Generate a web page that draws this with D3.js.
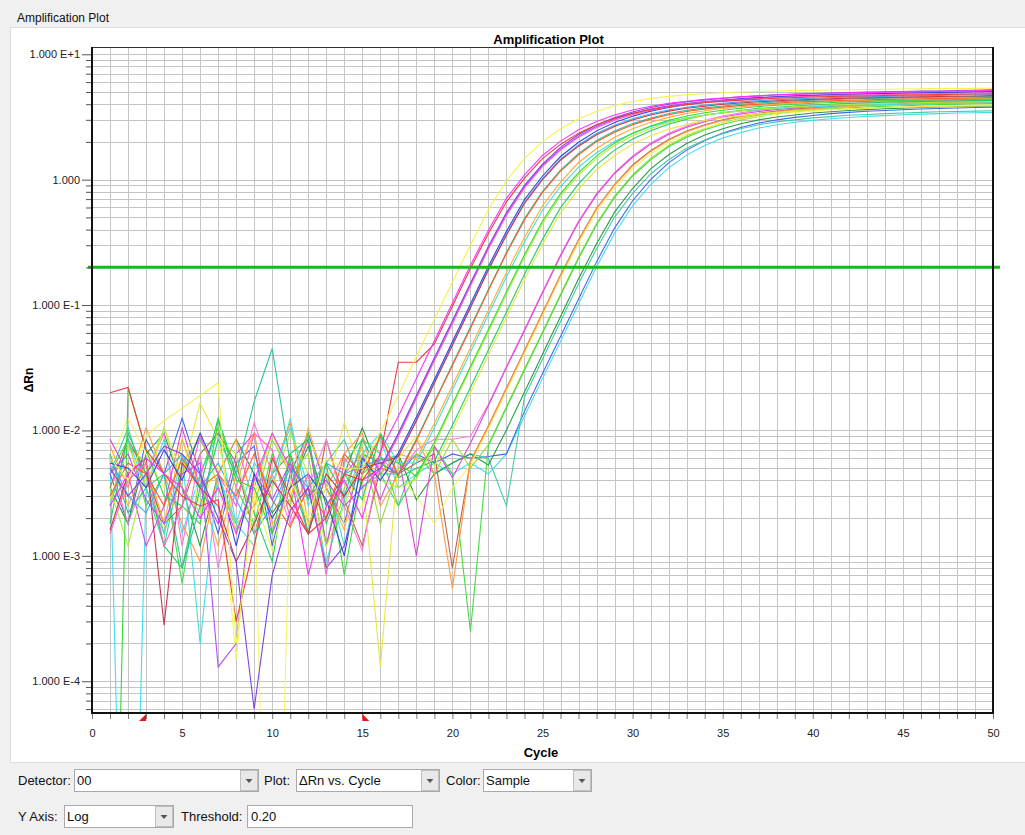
<!DOCTYPE html>
<html>
<head>
<meta charset="utf-8">
<script src="https://cdnjs.cloudflare.com/ajax/libs/d3/7.8.5/d3.min.js"></script>
<style>
  body { margin: 0; background: #f0f0f0; }
  svg { display: block; font-family: "Liberation Sans", Arial, sans-serif; }
</style>
</head>
<body>
<svg id="chart" width="1025" height="835"></svg>

<script>
// cycles 1..50
var cycles = d3.range(1, 51);

// delta Rn per well (1e-8 = dropped below the axis)
var yellowA = [.006,.004,.009,.012,.015,.019,.024,.0002,.003,.0011,.004,.002,.006,.005,
  .005,.0097,.019,.039,.077,.153,.30,.58,.98,1.48,2.0,2.55,3.05,3.5,3.9,4.2,4.45,4.62,4.75,4.85,4.93,5.0,5.05,5.1,5.13,5.16,5.19,5.22,5.24,5.26,5.28,5.3,5.32,5.33,5.35,5.36];
var magentaA = [.0025,.0045,.006,.0045,.0035,.002,.0035,.0015,.004,.0095,.005,.0007,.0025,.004,.002,
  .0068,.013,.026,.052,.104,.208,.395,.71,1.09,1.56,2.03,2.5,2.91,3.28,3.59,3.85,4.06,4.21,4.37,4.47,4.58,4.66,4.73,4.78,4.84,4.89,4.92,4.95,4.98,5.01,5.04,5.06,5.1,5.12,5.15];
var redA = [.02,.022,.007,.0045,.003,.0025,.0028,.0003,.0012,.006,.003,.0015,.002,.0045,.004,
  .0064,.035,.035,.049,.098,.196,.372,.666,1.03,1.47,1.91,2.35,2.74,3.09,3.38,3.63,3.82,3.97,4.12,4.21,4.31,4.39,4.46,4.51,4.56,4.61,4.64,4.66,4.69,4.72,4.75,4.77,4.8,4.82,4.85];
var pinkA = [.0015,.004,.0055,.0012,.0025,.009,.0045,.0025,.0095,.007,.002,.0045,.0007,.006,.004,
  .0048,.009,.018,.036,.071,.142,.28,.52,.86,1.27,1.72,2.18,2.6,2.98,3.3,3.58,3.8,3.98,4.12,4.25,4.35,4.44,4.52,4.58,4.63,4.68,4.72,4.75,4.78,4.81,4.84,4.86,4.89,4.91,4.94];
var purpleA = [.005,.003,.0045,.0075,.0065,.0045,.002,.0009,.00006,.0007,.0023,.0035,.0008,.0012,.004,
  .005,.0095,.019,.038,.075,.149,.294,.546,.9,1.33,1.81,2.29,2.73,3.13,3.47,3.76,3.99,4.18,4.33,4.46,4.57,4.66,4.75,4.81,4.86,4.91,4.96,4.99,5.02,5.05,5.08,5.1,5.13,5.16,5.2];
var blueA = [.0055,.005,.0035,.007,.004,.0095,.0045,.0012,.0045,.002,.0035,.0045,.0028,.001,.006,.004,
  .0066,.0128,.0255,.051,.102,.204,.388,.694,1.07,1.53,1.99,2.45,2.86,3.21,3.52,3.77,3.98,4.13,4.28,4.39,4.49,4.57,4.64,4.69,4.74,4.79,4.82,4.86,4.89,4.92,4.95,4.97,5.0,5.02];
var darkRed = [.0016,.0045,.006,.00028,.0055,.0035,.0025,.0009,.0018,.004,.0025,.0015,.0045,.003,.005,.0055,
  .0062,.0119,.0238,.0475,.095,.19,.361,.646,1.0,1.43,1.85,2.28,2.66,2.99,3.28,3.52,3.71,3.85,3.99,4.09,4.18,4.26,4.32,4.37,4.42,4.47,4.49,4.52,4.55,4.58,4.61,4.63,4.65,4.68];
var skyBlue = [.006,.003,.0022,.0045,.0065,.0035,.0055,.0028,.0015,.0025,.005,.0035,.0055,.0045,.0052,.0058,
  .0063,.0121,.0243,.0485,.097,.194,.369,.66,1.02,1.46,1.89,2.33,2.72,3.06,3.35,3.59,3.78,3.93,4.07,4.17,4.27,4.35,4.41,4.46,4.51,4.56,4.59,4.62,4.65,4.68,4.7,4.73,4.75,4.78];
var violet = [.0045,.0065,.0028,.0018,.0045,.0055,.00013,.0002,.0045,.0028,.0055,.003,.004,.0025,.0035,
  .0049,.0092,.0184,.0367,.0724,.145,.286,.53,.877,1.3,1.75,2.22,2.65,3.04,3.37,3.65,3.88,4.06,4.2,4.34,4.44,4.53,4.61,4.67,4.72,4.77,4.81,4.85,4.88,4.91,4.94,4.96,4.99,5.01,5.04];
var orangeRed = [.003,.0055,.0045,.0025,.006,.0035,.0045,.003,.0065,.0028,.0017,.0035,.002,.0065,.0045,.009,
  .0044,.0083,.0166,.033,.065,.131,.258,.478,.791,1.17,1.58,2.01,2.39,2.74,3.04,3.29,3.5,3.66,3.79,3.91,4.0,4.08,4.16,4.21,4.26,4.3,4.34,4.37,4.4,4.42,4.45,4.47,4.5,4.52];
var teal = [.0065,.0022,.0035,.0045,.0008,.0025,.0085,.0045,.017,.045,.0055,.0015,.0055,.003,.0085,.0045,
  .0045,.0085,.0169,.0338,.0667,.133,.263,.489,.808,1.19,1.62,2.05,2.44,2.8,3.1,3.37,3.57,3.74,3.87,4.0,4.09,4.17,4.25,4.31,4.35,4.4,4.44,4.46,4.49,4.52,4.55,4.57,4.6,4.62];
var green = [1e-8,.022,.007,.003,.0025,.0018,.012,.004,.0035,.0015,.0065,.0028,.0055,.0007,.0045,.006,.0055,
  .0043,.0081,.0162,.0324,.0639,.128,.252,.468,.774,1.14,1.55,1.96,2.34,2.68,2.97,3.22,3.42,3.58,3.71,3.83,3.92,4.0,4.07,4.12,4.17,4.21,4.25,4.28,4.3,4.33,4.35,4.37,4.4];
var lime = [.0035,.0012,.0045,.0105,.0035,.0022,.0085,.0065,.0015,.0035,.0095,.0045,.0012,.0025,.0065,.004,.0035,
  .0041,.0077,.0155,.031,.061,.122,.241,.447,.74,1.09,1.48,1.87,2.24,2.56,2.84,3.08,3.27,3.42,3.54,3.66,3.74,3.82,3.89,3.94,3.98,4.02,4.06,4.09,4.11,4.14,4.16,4.18,4.2];
var green2 = [.0018,.0095,.0045,.0012,.0008,.0035,.0125,.0045,.0022,.0009,.0065,.0085,.0018,.0045,.0028,.0095,.0042,.005,
  .0057,.011,.022,.044,.088,.176,.334,.598,.924,1.32,1.72,2.11,2.46,2.77,3.04,3.26,3.43,3.56,3.7,3.78,3.87,3.94,4.0,4.05,4.09,4.14,4.16,4.19,4.22,4.24,4.27,4.29];
var cyan = [.0025,.0085,.0035,.0015,.0065,.0002,.0045,.0018,.0012,.0045,.0105,.0035,.0009,.0028,.0065,.0095,.0055,
  .0055,.0105,.021,.042,.084,.168,.319,.571,.882,1.26,1.64,2.02,2.35,2.65,2.9,3.11,3.28,3.4,3.53,3.61,3.7,3.76,3.82,3.86,3.91,3.95,3.97,4.0,4.02,4.05,4.07,4.09,4.12];
var orange = [.0065,.0025,.0055,.0018,.0085,.0035,.0012,.0045,.0095,.0018,.0028,.0105,.0035,.0016,.0085,.0045,.0065,
  .0059,.0114,.0228,.0455,.091,.182,.346,.619,.956,1.37,1.77,2.18,2.55,2.87,3.14,3.37,3.55,3.69,3.82,3.91,4.0,4.08,4.14,4.19,4.23,4.28,4.3,4.33,4.36,4.39,4.41,4.43,4.46];
var yellowB = [.0028,.0075,.0035,.0105,.0045,.0165,.0085,.0015,.003,.0095,.0045,.0018,.0035,.0115,.0045,.00013,.006,.009,
  .0052,.01,.02,.04,.08,.16,.304,.544,.84,1.2,1.56,1.92,2.24,2.52,2.76,2.96,3.12,3.24,3.36,3.44,3.52,3.58,3.64,3.68,3.72,3.76,3.78,3.81,3.83,3.86,3.88,3.9];
var magentaB = [.0085,.0045,.0012,.0025,.0105,.0035,.0018,.0065,.0095,.0015,.0035,.0085,.0012,.0045,.0065,.0028,.0065,.001,.0075,
  .0042,.0079,.0158,.0317,.0625,.125,.246,.458,.757,1.12,1.51,1.92,2.29,2.62,2.9,3.15,3.34,3.5,3.63,3.74,3.83,3.91,3.98,4.03,4.07,4.12,4.16,4.18,4.21,4.23,4.26];
var pinkB = [.0055,.0018,.0045,.0095,.0012,.0065,.0008,.0035,.0115,.0045,.0018,.0035,.0085,.0025,.0011,.006,.0045,.007,.0085,
  .0085,.009,.0162,.0324,.0639,.128,.252,.468,.774,1.14,1.55,1.96,2.34,2.68,2.97,3.22,3.42,3.58,3.71,3.83,3.92,4.0,4.07,4.12,4.17,4.21,4.25,4.28,4.3,4.33,4.35];
var orangeB = [.0075,.0035,.0105,.0045,.0018,.0009,.0045,.0085,.0025,.0045,.0115,.0018,.0035,.0065,.0095,.0025,.0045,.0085,.0045,.00055,
  .0056,.0108,.0215,.043,.086,.172,.327,.585,.903,1.29,1.68,2.06,2.41,2.71,2.97,3.18,3.35,3.48,3.61,3.7,3.78,3.85,3.91,3.96,4.0,4.04,4.07,4.09,4.12,4.15];
var yellowC = [.0055,.0125,.0065,.0035,.0085,.0025,.0055,.00015,.0045,1e-8,.0035,.0085,.0045,.0018,.0025,.0095,.0045,.003,.0018,.0035,
  .0053,.0103,.0205,.041,.082,.164,.312,.558,.861,1.23,1.6,1.97,2.3,2.58,2.83,3.03,3.2,3.32,3.44,3.53,3.61,3.67,3.73,3.77,3.81,3.85,3.88,3.9,3.93,3.95];
var brown = [.0035,.0085,.0045,.0018,.0025,.0065,.0095,.0055,.0015,.0045,.0065,.0015,.0085,.0028,.0012,.005,.0045,.0055,.0065,.0008,
  .0057,.0109,.0218,.0435,.087,.174,.331,.592,.914,1.31,1.7,2.09,2.44,2.74,3.0,3.22,3.39,3.52,3.65,3.74,3.83,3.9,3.96,4.0,4.05,4.09,4.12,4.14,4.17,4.2];
var greenB = [.0045,.0085,.0025,.0045,.0006,.0045,.0105,.0035,.0018,.0065,.0025,.0095,.0012,.0055,.0085,.0065,.0025,.0045,.0075,.0045,.00025,
  .0076,.0151,.0302,.0596,.119,.235,.437,.722,1.07,1.44,1.83,2.18,2.5,2.77,3.0,3.19,3.34,3.46,3.57,3.66,3.73,3.8,3.84,3.89,3.93,3.97,3.99,4.02,4.04];
var limeB = [.0025,.0075,.0055,.0015,.0045,.0095,.0035,.0018,.0025,.0085,.0045,.0065,.0008,.0035,.0075,.0018,.005,.0065,.0045,.0085,.005,
  .0077,.0155,.031,.061,.122,.241,.447,.74,1.09,1.48,1.87,2.24,2.56,2.84,3.08,3.27,3.42,3.54,3.66,3.74,3.82,3.89,3.94,3.98,4.02,4.06,4.09,4.11,4.14];
var darkGreen = [.0035,.0018,.0065,.0095,.0035,.0012,.0045,.0085,.0045,.0022,.0035,.0075,.0025,.0045,.0105,.0045,.0065,.0028,.0045,.0055,.0065,
  .0053,.0101,.0203,.0405,.081,.162,.308,.551,.85,1.22,1.58,1.94,2.27,2.55,2.79,3.0,3.16,3.28,3.4,3.48,3.56,3.62,3.68,3.72,3.77,3.81,3.83,3.86,3.88];
var tealB = [.0045,.0105,.0035,.0012,.0055,.0085,.0045,.0016,.0035,.0095,.0045,.0015,.0055,.0085,.0035,.0045,.0025,.0065,.0045,.0055,.0065,.006,.0025,
  .0185,.037,.074,.148,.281,.503,.777,1.11,1.44,1.78,2.07,2.33,2.55,2.74,2.89,3.0,3.11,3.18,3.26,3.31,3.36,3.4,3.44,3.48,3.5,3.52,3.55];
var blueB = [.0045,.0018,.0085,.0045,.0125,.0045,.0015,.0055,.0075,.0012,.0045,.0095,.0035,.0018,.0065,.0055,.0045,.0065,.0055,.0065,.006,.0062,.0065,
  .0142,.0284,.0561,.112,.221,.411,.679,1.0,1.36,1.72,2.05,2.35,2.61,2.83,3.0,3.14,3.25,3.36,3.44,3.51,3.56,3.61,3.66,3.69,3.73,3.76,3.78];
var cyanB = [.0065,1e-8,.0035,.0085,.0015,.0045,.0095,.0018,.0055,.0035,.0125,.0025,.0045,.0012,.0055,.0085,.0035,.0045,.0055,.0045,.0055,.0045,
  .0065,.013,.0259,.0511,.102,.202,.374,.619,.914,1.24,1.57,1.87,2.15,2.38,2.58,2.74,2.87,2.97,3.06,3.13,3.2,3.24,3.29,3.33,3.36,3.4,3.42,3.44];

// wells, drawn late group first so the early ones end up on top
var wells = [cyanB, blueB, tealB, darkGreen, limeB, greenB, brown, yellowC, orangeB, pinkB, magentaB,
  yellowB, orange, cyan, green2, lime, green,
  teal, orangeRed, skyBlue, darkRed, violet, blueA, purpleA, pinkA, redA, magentaA, yellowA];
var wellColors = ["#44ddee", "#4466ee", "#44ccaa", "#2a9a48", "#99dd33", "#44dd44", "#bb6644", "#f5f56a", "#ff9944", "#ff77dd", "#dd44dd",
  "#e8e840", "#ffaa33", "#44dddd", "#22cc66", "#b0ee3a", "#36d936",
  "#2cc4a0", "#ff5a28", "#3fa9f5", "#c8374f", "#b44cff", "#3344dd", "#7b42e6", "#ff5fc8", "#ee3b3b", "#ff33ff", "#f3f34c"];

var threshold = 0.20;
var baselineStart = 3, baselineEnd = 15;
var yTickLabels = {"-4": "1.000 E-4", "-3": "1.000 E-3", "-2": "1.000 E-2", "-1": "1.000 E-1", "0": "1.000", "1": "1.000 E+1"};

var svg = d3.select("#chart");

// window + group box
svg.append("rect").attr("width", 1025).attr("height", 835).attr("fill", "#f0f0f0");
svg.append("rect").attr("x", 10.5).attr("y", 27.5).attr("width", 1020).attr("height", 735)
  .attr("fill", "#fff").attr("stroke", "#dcdcdc");
svg.append("text").attr("x", 17).attr("y", 22).attr("font-size", 12).attr("fill", "#111").text("Amplification Plot");

var plotL = 92, plotR = 993, plotT = 47, plotB = 713;
var x = d3.scaleLinear().domain([0, 50]).range([plotL, plotR]);
var y = d3.scaleLog().domain([5.58e-5, 11.43]).range([plotB, plotT]);

// grid
var grid = svg.append("g").attr("stroke", "#c4c4c4").attr("stroke-width", 1);
grid.selectAll("line.v").data(d3.range(1, 50)).enter().append("line")
  .attr("x1", d => Math.round(x(d)) + 0.5).attr("x2", d => Math.round(x(d)) + 0.5)
  .attr("y1", plotT).attr("y2", plotB);
var yTicks = y.ticks();
grid.selectAll("line.h").data(yTicks).enter().append("line")
  .attr("x1", plotL).attr("x2", plotR)
  .attr("y1", d => Math.round(y(d)) + 0.5).attr("y2", d => Math.round(y(d)) + 0.5);

// curves
svg.append("clipPath").attr("id", "plotclip").append("rect")
  .attr("x", plotL).attr("y", plotT).attr("width", plotR - plotL).attr("height", plotB - plotT);

var line = d3.line().x((d, i) => x(cycles[i])).y(d => y(d));
svg.append("g").attr("clip-path", "url(#plotclip)")
  .selectAll("path").data(wells).enter().append("path")
  .attr("d", line)
  .attr("fill", "none")
  .attr("stroke", (d, i) => wellColors[i])
  .attr("stroke-width", 1.1);

// threshold
svg.append("line").attr("x1", plotL - 4).attr("x2", plotR + 7)
  .attr("y1", y(threshold)).attr("y2", y(threshold))
  .attr("stroke", "#1eb41e").attr("stroke-width", 3);

// axes
function isDecade(d) { var l = Math.log10(d); return Math.abs(l - Math.round(l)) < 1e-9; }

var yAxis = svg.append("g").attr("transform", "translate(" + plotL + ",0)")
  .call(d3.axisLeft(y).tickValues(yTicks).tickSize(6).tickPadding(6).tickSizeOuter(0)
    .tickFormat(d => isDecade(d) ? yTickLabels[Math.round(Math.log10(d))] : ""));
yAxis.select(".domain").remove();
yAxis.selectAll(".tick line").attr("stroke", "#555").attr("x2", d => isDecade(d) ? -10 : -6);
yAxis.selectAll(".tick text").attr("font-size", 11).attr("fill", "#222").attr("font-family", "Liberation Sans, Arial, sans-serif");

var xAxis = svg.append("g").attr("transform", "translate(0," + plotB + ")")
  .call(d3.axisBottom(x).tickValues(d3.range(0, 51)).tickSize(6).tickPadding(10).tickSizeOuter(0)
    .tickFormat(d => d % 5 === 0 ? d : ""));
xAxis.select(".domain").remove();
xAxis.selectAll(".tick line").attr("stroke", "#777");
xAxis.selectAll(".tick text").attr("font-size", 11).attr("fill", "#222").attr("font-family", "Liberation Sans, Arial, sans-serif");

// frame
svg.append("rect").attr("x", plotL + 0.5).attr("y", plotT + 0.5).attr("width", plotR - plotL - 1).attr("height", plotB - plotT - 1)
  .attr("fill", "none").attr("stroke", "#333").attr("stroke-width", 1);
svg.append("path").attr("d", "M" + plotL + "," + plotT + "V" + plotB + "H" + plotR + "V" + plotT)
  .attr("fill", "none").attr("stroke", "#111").attr("stroke-width", 2);

// baseline markers
var bx0 = x(baselineStart), bx1 = x(baselineEnd);
svg.append("path").attr("d", "M" + bx0 + "," + (plotB + 1) + "L" + bx0 + "," + (plotB + 8) + "L" + (bx0 - 7) + "," + (plotB + 8) + "Z").attr("fill", "#e01818");
svg.append("path").attr("d", "M" + bx1 + "," + (plotB + 1) + "L" + bx1 + "," + (plotB + 8) + "L" + (bx1 + 7) + "," + (plotB + 8) + "Z").attr("fill", "#e01818");

// titles
svg.append("text").attr("x", (plotL + plotR) / 2 + 6).attr("y", 44).attr("text-anchor", "middle")
  .attr("font-size", 13).attr("font-weight", "bold").text("Amplification Plot");
svg.append("text").attr("x", 541).attr("y", 757).attr("text-anchor", "middle")
  .attr("font-size", 13).attr("font-weight", "bold").text("Cycle");
svg.append("text").attr("transform", "translate(33,380) rotate(-90)").attr("text-anchor", "middle")
  .attr("font-size", 12).attr("font-weight", "bold").text("ΔRn");

// controls
function label(x0, y0, t) {
  svg.append("text").attr("x", x0).attr("y", y0).attr("font-size", 13).attr("fill", "#111").text(t);
}
function combo(x0, y0, w, t) {
  svg.append("rect").attr("x", x0 + 0.5).attr("y", y0 + 0.5).attr("width", w).attr("height", 22)
    .attr("fill", "#fff").attr("stroke", "#a9a9a9");
  svg.append("rect").attr("x", x0 + w - 17.5).attr("y", y0 + 1.5).attr("width", 17).attr("height", 20)
    .attr("fill", "#e8e8e8").attr("stroke", "#c0c0c0");
  svg.append("path").attr("d", "M" + (x0 + w - 12.5) + "," + (y0 + 10) + "l7,0l-3.5,4z").attr("fill", "#555");
  svg.append("text").attr("x", x0 + 3).attr("y", y0 + 16).attr("font-size", 13).attr("fill", "#111").text(t);
}
label(18, 785, "Detector:");
combo(74, 769, 184, "00");
label(264, 785, "Plot:");
combo(296, 769, 143, "ΔRn vs. Cycle");
label(446, 785, "Color:");
combo(483, 769, 108, "Sample");
label(18, 821, "Y Axis:");
combo(64, 805, 109, "Log");
label(181, 821, "Threshold:");
svg.append("rect").attr("x", 247.5).attr("y", 805.5).attr("width", 165).attr("height", 22)
  .attr("fill", "#fff").attr("stroke", "#a9a9a9");
svg.append("text").attr("x", 251).attr("y", 821).attr("font-size", 13).attr("fill", "#111").text(threshold.toFixed(2));
</script>
</body>
</html>
